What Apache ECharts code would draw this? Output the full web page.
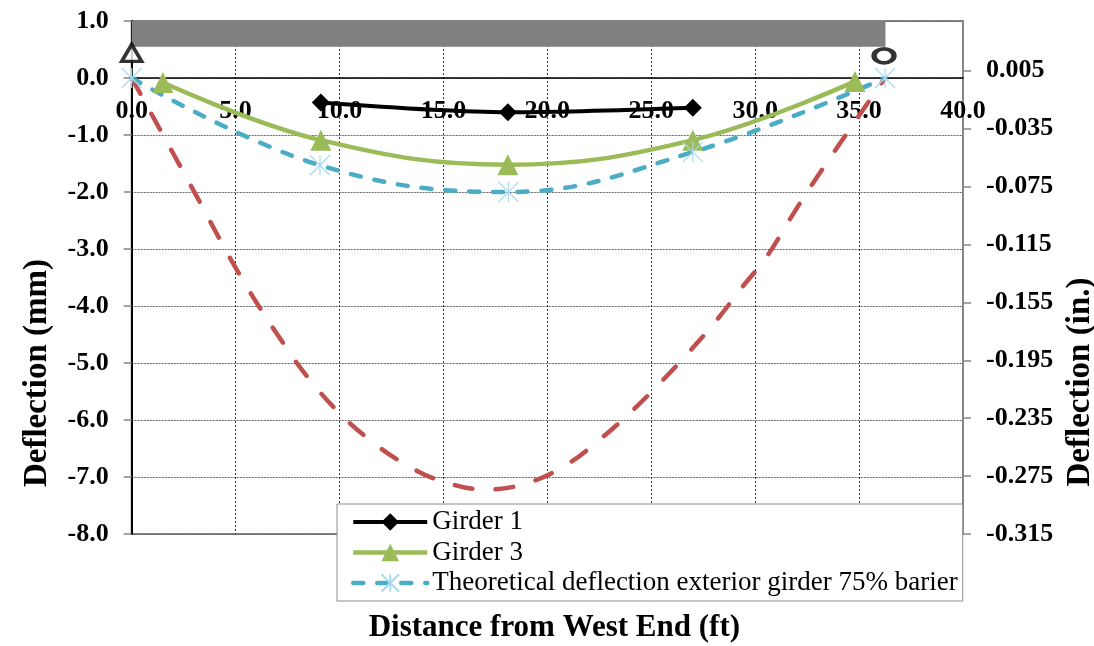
<!DOCTYPE html>
<html><head><meta charset="utf-8">
<script src="https://cdn.jsdelivr.net/npm/echarts@6/dist/echarts.min.js"></script>
<style>html,body{margin:0;padding:0;background:#fff}#c{width:1094px;height:646px}</style>
</head><body><div id="c"></div><script>
// ---- data ----
const seriesNames = ['Girder 1', 'Girder 3', 'Theoretical deflection exterior girder 75% barier', 'Theoretical deflection interior girder'];
const girder1X = [9.1, 18.1, 27.0];
const girder1Y = [-0.43, -0.60, -0.52];
const girder3X = [1.5, 9.1, 18.1, 27.0, 34.8];
const girder3Y = [-0.08, -1.09, -1.52, -1.09, -0.06];
const theoExtX = [0, 9.06, 18.13, 27.0, 36.25];
const theoExtY = [0, -1.53, -2.00, -1.30, 0];
// red dashed curve (no markers, not in legend): values
const theoIntX = [0, 2.88, 5.29, 7.45, 8.65, 10.0, 11.46, 13.22, 14.98, 17.07, 18.99, 20.9, 22.5, 23.96, 25.4, 26.76, 28.1, 29.4, 30.6, 31.65, 32.77, 36.25];
const theoIntY = [0, -1.91, -3.51, -4.74, -5.33, -5.88, -6.35, -6.79, -7.08, -7.22, -7.11, -6.79, -6.35, -5.88, -5.36, -4.83, -4.27, -3.66, -3.11, -2.49, -1.85, 0];
const pinX = [0], pinY = [0.44];          // triangle support (west end)
const rollerX = [36.2], rollerY = [0.39]; // circle support (east end)
const deckX = [-0.13, 36.27];              // deck bar extent (ft)
const deckY = [0.55, 1.0];                 // deck bar extent (mm axis)
const mmAxis = {min: -8, max: 1, interval: 1};
const inAxis = {min: -0.315, max: 1 / 25.4, interval: 0.04};
const ftAxis = {min: 0, max: 40, interval: 5};

const FF = '"Liberation Serif", "Times New Roman", serif';
const pairs = (xs, ys) => xs.map((x, i) => [x, ys[i]]);
const asterisk = 'path://M0,0L20,20M20,0L0,20M10,0L10,20';

const GRID = {left: 131.7, right: 131, top: 21, bottom: 112};
const plotH = 646 - GRID.top - GRID.bottom;
// put the x axis on the 0 mm line (data-driven position)
const zeroOffset = -plotH * (0 - mmAxis.min) / (mmAxis.max - mmAxis.min);

const chart = echarts.init(document.getElementById('c'), null, {renderer: 'canvas'});
chart.setOption({
  animation: false,
  backgroundColor: '#fff',
  grid: Object.assign({containLabel: false, outerBoundsMode: 'none',
    show: true, borderColor: '#868686', borderWidth: 2, backgroundColor: 'transparent'}, GRID),
  legend: {
    data: seriesNames.slice(0, 3),
    orient: 'vertical', left: 337, top: 504,
    backgroundColor: '#fff', borderColor: '#8c8c8c', borderWidth: 1, borderRadius: 0,
    padding: [4, 5, 4, 14], itemGap: 2.5, itemWidth: 74, itemHeight: 22,
    selectedMode: false,
    lineStyle: {width: 'inherit'},
    textStyle: {fontFamily: FF, fontSize: 27, color: '#000', lineHeight: 28}
  },
  xAxis: {
    type: 'value', min: ftAxis.min, max: ftAxis.max, interval: ftAxis.interval, position: 'bottom',
    offset: zeroOffset,
    axisLine: {show: true, onZero: false, lineStyle: {color: '#000', width: 1.5}},
    axisTick: {show: false},
    axisLabel: {margin: 20, formatter: v => v.toFixed(1), fontFamily: FF, fontSize: 26, fontWeight: 'bold', color: '#000'},
    splitLine: {show: true, lineStyle: {color: '#333', type: [2, 2], width: 1}},
    name: 'Distance from West End (ft)', nameLocation: 'middle', nameGap: 534,
    nameTextStyle: {fontFamily: FF, fontSize: 31, fontWeight: 'bold', color: '#000', padding: [0, 0, 0, 14]}
  },
  yAxis: [{
    type: 'value', min: mmAxis.min, max: mmAxis.max, interval: mmAxis.interval, position: 'left',
    axisLine: {show: true, onZero: false, lineStyle: {color: '#000', width: 2}},
    axisTick: {show: true, length: 8, lineStyle: {color: '#868686', width: 1.5}},
    axisLabel: {margin: 23, formatter: v => v.toFixed(1), fontFamily: FF, fontSize: 26, fontWeight: 'bold', color: '#000'},
    splitLine: {show: true, lineStyle: {color: '#666', type: [2, 1], width: 1}},
    name: 'Deflection (mm)', nameLocation: 'middle', nameGap: 78,
    nameTextStyle: {fontFamily: FF, fontSize: 33, fontWeight: 'bold', color: '#000', padding: [0, 191, 0, 0]}
  }, {
    type: 'value', min: inAxis.min, max: inAxis.max, interval: inAxis.interval, position: 'right',
    axisLine: {show: true, onZero: false, lineStyle: {color: '#868686', width: 2}},
    axisTick: {show: true, length: 8, lineStyle: {color: '#868686', width: 1.5}},
    axisLabel: {margin: 23, showMaxLabel: false, formatter: v => (v > 0.02 ? '' : v.toFixed(3)), fontFamily: FF, fontSize: 26, fontWeight: 'bold', color: '#000'},
    splitLine: {show: false},
    name: 'Deflection (in.)', nameLocation: 'middle', nameRotate: 90, nameGap: 100,
    nameTextStyle: {fontFamily: FF, fontSize: 33, fontWeight: 'bold', color: '#000', padding: [0, 209, 0, 0]}
  }],
  series: [{
    name: seriesNames[3], type: 'line', smooth: 0.4, data: pairs(theoIntX, theoIntY),
    showSymbol: false, symbol: 'none', z: 2,
    lineStyle: {color: '#c0504d', width: 4.5, type: [18, 23], cap: 'round'},
    itemStyle: {color: '#c0504d'},
    markArea: {silent: true, itemStyle: {color: '#808080', opacity: 1},
      data: [[{coord: [deckX[0], deckY[1]]}, {coord: [deckX[1], deckY[0]]}]]}
  }, {
    name: seriesNames[0], type: 'line', smooth: 0.3, data: pairs(girder1X, girder1Y), z: 3,
    symbol: 'diamond', symbolSize: 18,
    lineStyle: {color: '#000', width: 4}, itemStyle: {color: '#000'}
  }, {
    name: seriesNames[1], type: 'line', smooth: 0.4, data: pairs(girder3X, girder3Y), z: 3,
    symbol: 'triangle', symbolSize: 21,
    lineStyle: {color: '#9bbb59', width: 4.5}, itemStyle: {color: '#9bbb59'}
  }, {
    name: seriesNames[2], type: 'line', smooth: 0.4, data: pairs(theoExtX, theoExtY), z: 3,
    symbol: asterisk, symbolSize: 20,
    lineStyle: {color: '#4bacc6', width: 4.5, type: [10, 14], cap: 'round'},
    itemStyle: {color: 'rgba(0,0,0,0)', borderColor: '#a9dbee', borderWidth: 1.2}
  }, {
    name: 'pin', type: 'scatter', data: pairs(pinX, pinY), z: 6,
    symbol: 'triangle', symbolSize: [20, 17],
    itemStyle: {color: '#fff', borderColor: '#000', borderWidth: 3.5}
  }, {
    name: 'roller', type: 'scatter', data: pairs(rollerX, rollerY), z: 6,
    symbol: 'circle', symbolSize: [20, 14],
    itemStyle: {color: '#fff', borderColor: '#000', borderWidth: 4.5}
  }]
});
</script></body></html>
